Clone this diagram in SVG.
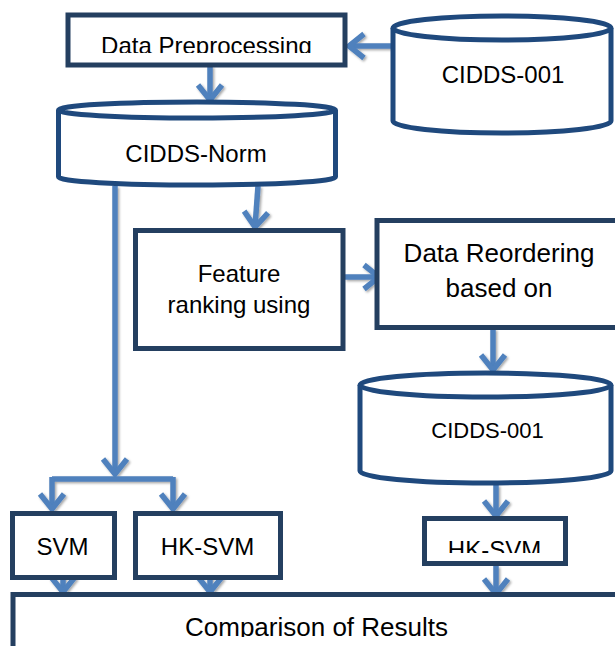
<svg xmlns="http://www.w3.org/2000/svg" width="615" height="646" viewBox="0 0 615 646">
  <style>
    .box { fill: #ffffff; stroke: #243F60; stroke-width: 5; }
    .cyl { fill: #ffffff; stroke: #1F497D; stroke-width: 5; }
    .lbl { font-family: "Liberation Sans", Arial, sans-serif; fill: #000000; text-anchor: middle; }
    .conn { fill: none; stroke: #4F81BD; stroke-width: 5.5; }
  </style>
  <defs>
    <marker id="ah" markerUnits="userSpaceOnUse" markerWidth="40" markerHeight="40" viewBox="-20 -20 40 40" refX="0" refY="0" orient="auto" overflow="visible">
      <path d="M-15,-12 L0,0 L-15,12" fill="none" stroke="#4F81BD" stroke-width="5.5"/>
    </marker>
    <filter id="shadow" x="-20%" y="-20%" width="140%" height="140%">
      <feDropShadow dx="1.5" dy="1.5" stdDeviation="0.8" flood-color="#000000" flood-opacity="0.35"/>
    </filter>
    <clipPath id="clipDP"><rect x="60" y="0" width="300" height="53"/></clipPath>
    <clipPath id="clipHK2"><rect x="420" y="500" width="150" height="53"/></clipPath>
    <clipPath id="clipCmp"><rect x="0" y="590" width="615" height="47"/></clipPath>
  </defs>

  <rect x="0" y="0" width="615" height="646" fill="#ffffff"/>

  <g id="connectors" filter="url(#shadow)">
    <path class="conn" d="M391,46 H349" marker-end="url(#ah)"/>
    <path class="conn" d="M210,66 V100" marker-end="url(#ah)"/>
    <path class="conn" d="M258,186 L255,227" marker-end="url(#ah)"/>
    <path class="conn" d="M115,186 V474" marker-end="url(#ah)"/>
    <path class="conn" d="M52,479 H173"/>
    <path class="conn" d="M52,477 V509" marker-end="url(#ah)"/>
    <path class="conn" d="M173,477 V509" marker-end="url(#ah)"/>
    <path class="conn" d="M345,277 H379" marker-end="url(#ah)"/>
    <path class="conn" d="M493,329 V370" marker-end="url(#ah)"/>
    <path class="conn" d="M496,485 V516" marker-end="url(#ah)"/>
    <path class="conn" d="M63,563 V592" marker-end="url(#ah)"/>
    <path class="conn" d="M210,563 V592" marker-end="url(#ah)"/>
    <path class="conn" d="M496,566 V594" marker-end="url(#ah)"/>
  </g>

  <g id="data-preprocessing">
    <rect class="box" x="68" y="15" width="277" height="50"/>
    <text class="lbl" x="206.5" y="53.5" font-size="24" clip-path="url(#clipDP)">Data Preprocessing</text>
  </g>

  <g id="cidds-001">
    <path class="cyl" d="M393,28 V121 A109,12 0 0 0 611,121 V28"/>
    <ellipse class="cyl" cx="502" cy="28" rx="109" ry="12"/>
    <text class="lbl" x="503" y="83" font-size="24">CIDDS-001</text>
  </g>

  <g id="cidds-norm">
    <path class="cyl" d="M58.5,110 V177 A138.5,8 0 0 0 335.5,177 V110"/>
    <ellipse class="cyl" cx="197" cy="110" rx="138.5" ry="8"/>
    <text class="lbl" x="196" y="162" font-size="24">CIDDS-Norm</text>
  </g>

  <g id="feature-ranking">
    <rect class="box" x="135.5" y="230.5" width="207.5" height="118"/>
    <text class="lbl" x="239" y="282" font-size="24">Feature</text>
    <text class="lbl" x="239" y="313" font-size="24">ranking using</text>
  </g>

  <g id="data-reordering">
    <rect class="box" x="377" y="220.5" width="260" height="107"/>
    <text class="lbl" x="499" y="262" font-size="26">Data Reordering</text>
    <text class="lbl" x="499" y="297" font-size="26">based on</text>
  </g>

  <g id="cidds-001-reordered">
    <path class="cyl" d="M360,385 V471 A125.5,12 0 0 0 611,471 V385"/>
    <ellipse class="cyl" cx="485.5" cy="385" rx="125.5" ry="12"/>
    <text class="lbl" x="487.5" y="438" font-size="22">CIDDS-001</text>
  </g>

  <g id="svm">
    <rect class="box" x="12.5" y="513.5" width="102" height="64"/>
    <text class="lbl" x="62.5" y="555" font-size="24">SVM</text>
  </g>

  <g id="hk-svm-1">
    <rect class="box" x="135.5" y="513.5" width="145" height="64"/>
    <text class="lbl" x="207.5" y="555" font-size="24">HK-SVM</text>
  </g>

  <g id="hk-svm-2">
    <rect class="box" x="424.5" y="518.5" width="141" height="45"/>
    <text class="lbl" x="494.5" y="558" font-size="24" clip-path="url(#clipHK2)">HK-SVM</text>
  </g>

  <g id="comparison">
    <rect class="box" x="13" y="594.5" width="650" height="100"/>
    <text class="lbl" x="316.5" y="635.5" font-size="26" clip-path="url(#clipCmp)">Comparison of Results</text>
  </g>
</svg>
